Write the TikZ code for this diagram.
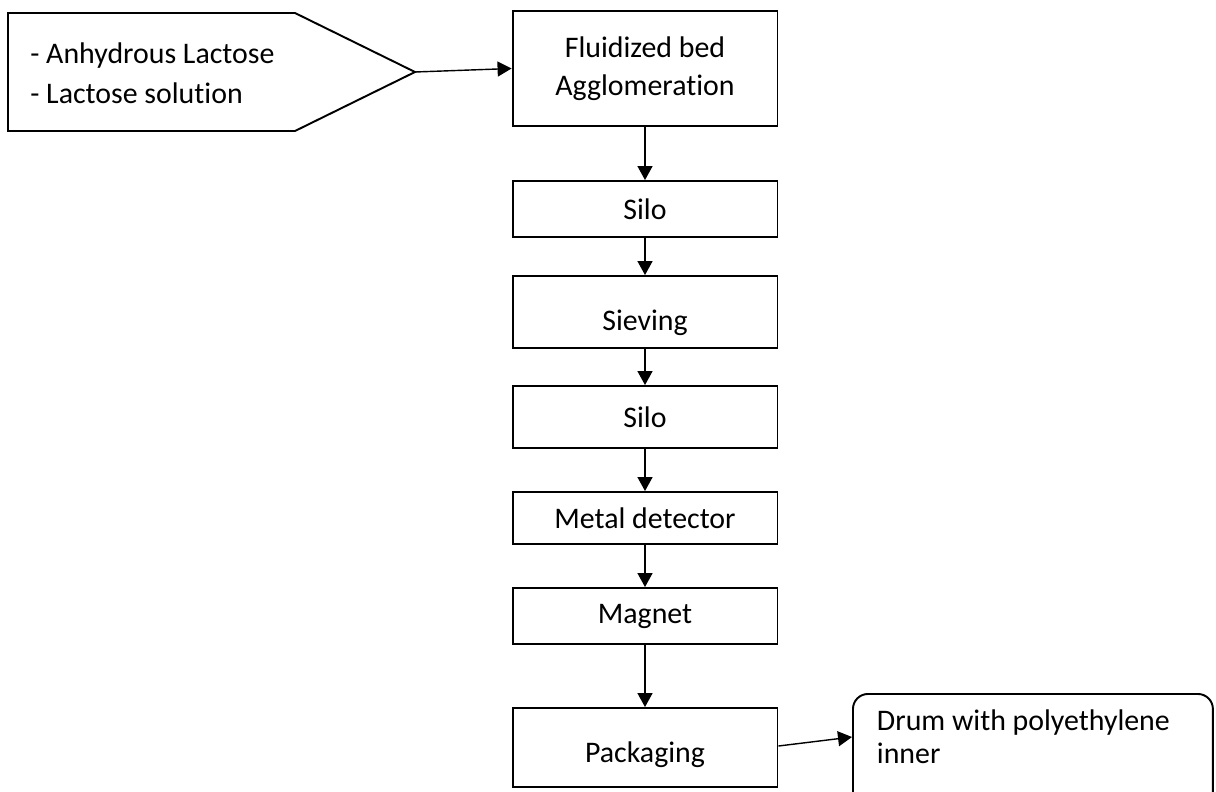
\documentclass[tikz,border=0pt]{standalone}
\usepackage{fontspec}
\setmainfont{Carlito}[Ligatures=NoCommon]
\usetikzlibrary{arrows.meta,calc}
\begin{document}
\begin{tikzpicture}[x=0.02cm, y=-0.02cm,
	every node/.style={font=\fontsize{17}{21.6}\selectfont},
	stage/.style={draw, line width=1.1pt, minimum width=5.3cm, inner sep=0pt, align=center},
	feed/.style={-{Triangle[length=0.28cm, width=0.3cm]}, line width=0.8pt}]
	
	\useasboundingbox (0,0) rectangle (1216,791);
	
	% raw material input
	\coordinate (tip) at (415,72);
	\draw [line width=1.1pt] (8,13) -- (295,13) -- (tip) -- (295,131) -- (8,131) -- cycle;
	\node [anchor=west, align=left, inner sep=0pt, font=\fontsize{17}{23}\selectfont] (input) at (30,73)
		{- Anhydrous Lactose\\- Lactose solution};
	
	% process stages
	\node [stage, minimum height=2.3cm] (fluid) at (645,68.5) {Fluidized bed\\Agglomeration};
	\node [stage, minimum height=1.12cm] (silo1) at (645,209) {Silo};
	\node [stage, minimum height=1.44cm, label={[yshift=-0.22cm]center:Sieving}] (sieve) at (645,312) {};
	\node [stage, minimum height=1.24cm] (silo2) at (645,417) {Silo};
	\node [stage, minimum height=1.04cm] (metal) at (645,518) {Metal detector};
	\node [stage, minimum height=1.12cm] (magnet) at (645,616) {Magnet};
	\node [stage, minimum height=1.58cm, label={[yshift=-0.14cm]center:Packaging}] (pack) at (645,747.5) {};
	
	% output
	\node [draw, line width=1.1pt, rounded corners=0.3cm, anchor=north west,
		inner xsep=0.48cm, inner ysep=0.32cm, font=\fontsize{17}{18.8}\selectfont] (drum) at (852,693)
		{\parbox[t][2cm][t]{6.24cm}{\raggedright Drum with polyethylene\\inner}};
	
	% connectors
	\draw [feed] (tip) -- (fluid.west);
	\foreach \a/\b in {fluid/silo1, silo1/sieve, sieve/silo2, silo2/metal, metal/magnet, magnet/pack}
		\draw [feed] (\a) -- (\b);
	\draw [feed] ([yshift=0.03cm]pack.east) -- ([yshift=-0.88cm]drum.north west);
	
\end{tikzpicture}
\end{document}
